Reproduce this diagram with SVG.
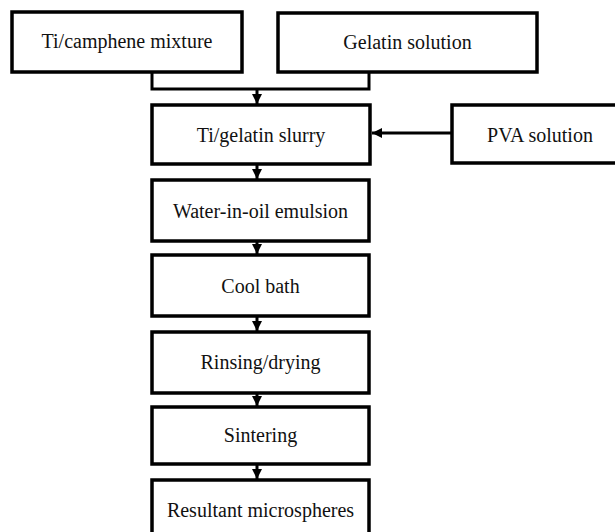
<svg xmlns="http://www.w3.org/2000/svg" width="615" height="532" viewBox="0 0 615 532">
<style>
.box{fill:#fff;stroke:#000;stroke-width:3.5}
.lbl{font-family:"Liberation Serif","Times New Roman",serif;font-size:20px;fill:#111;text-anchor:middle}
.con{fill:none;stroke:#000;stroke-width:3}
</style>
<defs>
<marker id="ah" viewBox="0 0 10 10" refX="10" refY="5" markerWidth="10" markerHeight="10" markerUnits="userSpaceOnUse" orient="auto">
<path d="M0,0 L10,5 L0,10 Z" fill="#000"/>
</marker>
</defs>
<rect width="615" height="532" fill="#fff"/>
<g id="connectors">
<polyline class="con" points="152,72 152,89 369,89 369,72"/>
<line class="con" x1="257" y1="89" x2="257" y2="104" marker-end="url(#ah)"/>
<line class="con" x1="452" y1="133" x2="372" y2="133" marker-end="url(#ah)"/>
<line class="con" x1="257" y1="164" x2="257" y2="179" marker-end="url(#ah)"/>
<line class="con" x1="257" y1="241" x2="257" y2="254" marker-end="url(#ah)"/>
<line class="con" x1="257" y1="316" x2="257" y2="331" marker-end="url(#ah)"/>
<line class="con" x1="257" y1="393" x2="257" y2="406" marker-end="url(#ah)"/>
<line class="con" x1="257" y1="464" x2="257" y2="479" marker-end="url(#ah)"/>
</g>
<g id="n_ticamphene"><rect class="box" x="12" y="12" width="230" height="60"/><text class="lbl" x="127" y="48">Ti/camphene mixture</text></g>
<g id="n_gelatin"><rect class="box" x="278" y="13" width="259" height="59"/><text class="lbl" x="407.5" y="49">Gelatin solution</text></g>
<g id="n_slurry"><rect class="box" x="152" y="105" width="218" height="59"/><text class="lbl" x="261" y="142">Ti/gelatin slurry</text></g>
<g id="n_pva"><rect class="box" x="452" y="105" width="180" height="58"/><text class="lbl" x="540" y="142">PVA solution</text></g>
<g id="n_emulsion"><rect class="box" x="152" y="180" width="217" height="61"/><text class="lbl" x="260.5" y="218">Water-in-oil emulsion</text></g>
<g id="n_cool"><rect class="box" x="152" y="255" width="217" height="61"/><text class="lbl" x="260.5" y="293">Cool bath</text></g>
<g id="n_rinsing"><rect class="box" x="152" y="332" width="217" height="61"/><text class="lbl" x="260.5" y="369">Rinsing/drying</text></g>
<g id="n_sintering"><rect class="box" x="152" y="407" width="217" height="57"/><text class="lbl" x="260.5" y="442">Sintering</text></g>
<g id="n_result"><rect class="box" x="152" y="480" width="217" height="62"/><text class="lbl" x="260.5" y="517">Resultant microspheres</text></g>
</svg>
